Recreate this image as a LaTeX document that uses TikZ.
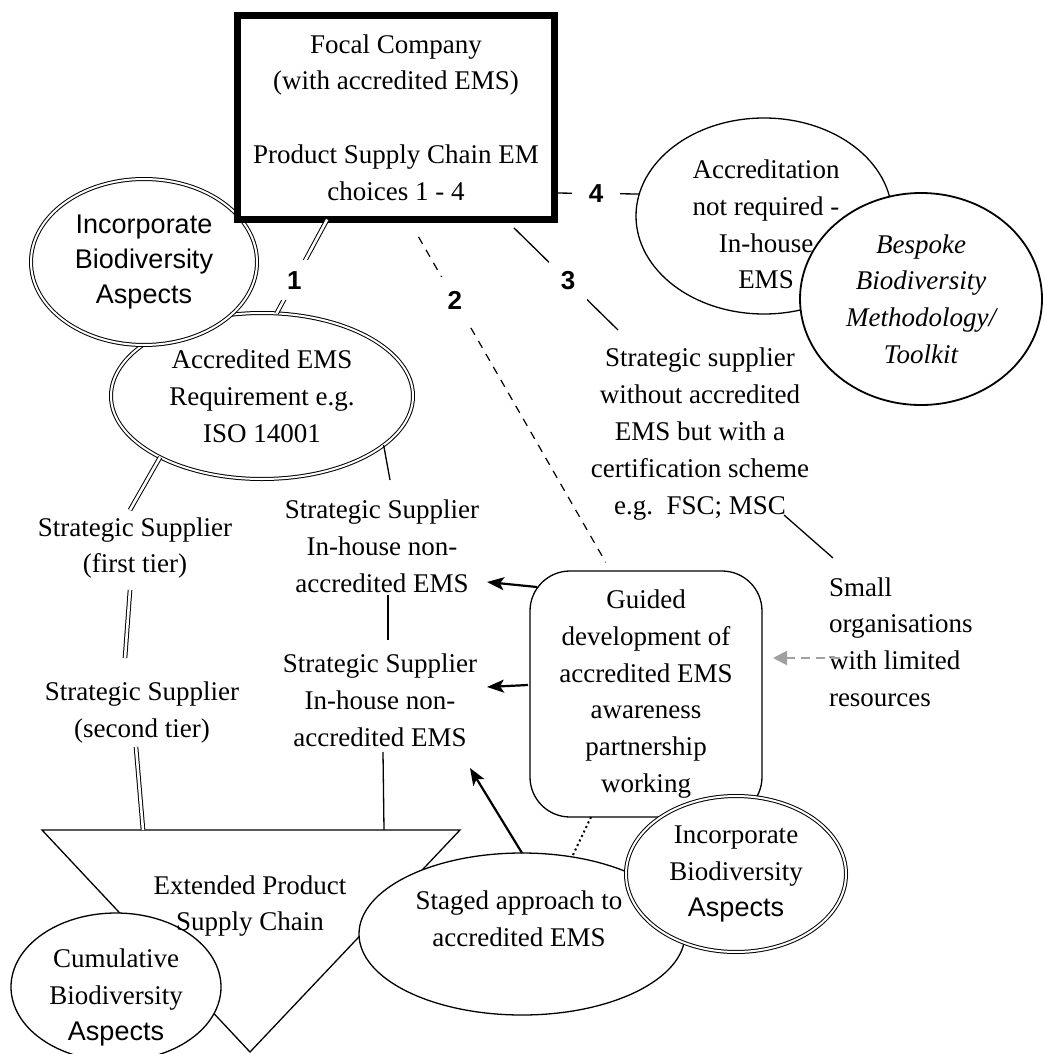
\documentclass[tikz,border=0pt]{standalone}
\usepackage{fontspec}
\setmainfont{Liberation Serif}
\setsansfont{Liberation Sans}
\usetikzlibrary{arrows.meta,shapes.geometric}
\definecolor{midgray}{RGB}{160,160,160}
\begin{document}
\begin{tikzpicture}[x=1pt,y=-1pt,
  every node/.style={outer sep=0pt},
  serif/.style={font=\fontsize{27pt}{36.8pt}\selectfont, align=center, inner sep=0pt},
  serifit/.style={font=\fontsize{27pt}{36.8pt}\selectfont\itshape, align=center, inner sep=0pt},
  sans/.style={font=\fontsize{27pt}{35pt}\selectfont\sffamily, align=center, inner sep=0pt},
  num/.style={font=\fontsize{26pt}{30pt}\selectfont\sffamily\bfseries, fill=white, inner sep=12pt},
  oval/.style={ellipse, draw, fill=white, line width=1.3pt, inner sep=0pt},
  dbloval/.style={ellipse, draw, fill=white, line width=1pt, double, double distance=2pt, inner sep=0pt},
  conn/.style={line width=1.3pt},
  dblline/.style={line width=1pt, double, double distance=2.6pt},
  arr/.style={line width=2.2pt, -{Stealth[length=17pt,width=13pt,inset=4pt]}},
  grayarr/.style={draw=midgray, line width=2pt, dash pattern=on 9pt off 6pt, -{Triangle[length=14pt,width=14pt]}},
  dotconn/.style={line width=2pt, dash pattern=on 2pt off 3pt},
  dashconn/.style={line width=1.2pt, dash pattern=on 8pt off 7pt},
]
\useasboundingbox (0,0) rectangle (1044,1054);
\fill[white] (0,0) rectangle (1044,1054);

% supply chain funnel
\coordinate (tl) at (42,830);
\coordinate (tr) at (460,830);
\coordinate (tip) at (250,1052);
\draw[conn, fill=white] (tl) -- (tr) -- (tip) -- cycle;
\coordinate (t1) at (143,830);
\coordinate (t2) at (384,830);

\node[oval, minimum width=210pt, minimum height=148pt] (cumul) at (116,987) {};
\node[oval, minimum width=326pt, minimum height=162pt] (staged) at (522,934) {};
\node[serif] (ext) at (250,906) {Extended Product\\Supply Chain};
\node[serif] (cumultext) at (116,997.5) {Cumulative\\Biodiversity\\{\sffamily Aspects}};
\node[serif] (stagedtext) at (519,919) {Staged approach to\\accredited EMS};

% guided development box and its biodiversity ellipse
\node[draw, rounded corners=40pt, line width=1.3pt, fill=white,
      minimum width=232pt, minimum height=246pt, serif] (guided) at (646,694)
  {Guided\\development of\\accredited EMS\\awareness\\partnership\\working};
\node[dbloval, minimum width=220pt, minimum height=156pt, serif] (inc2) at (736,874)
  {Incorporate\\Biodiversity\\{\sffamily Aspects}};

% accredited route
\node[dbloval, minimum width=302pt, minimum height=166pt, serif] (accr) at (262,396)
  {Accredited EMS\\Requirement e.g.\\ISO 14001};
\node[dbloval, minimum width=226pt, minimum height=166pt, sans] (inc1) at (144,262)
  {Incorporate\\Biodiversity\\Aspects};

% in-house route
\node[oval, minimum width=256pt, minimum height=196pt] (accrnr) at (764,216) {};
\node[oval, line width=1.8pt, minimum width=242pt, minimum height=212pt, serifit] (bespoke) at (921,299)
  {Bespoke\\Biodiversity\\Methodology/\\Toolkit};
\node[serif] (accrnrtext) at (766,224.5) {Accreditation\\not required -\\In-house\\EMS};

% focal company
\node[draw, line width=7pt, fill=white, minimum width=317pt, minimum height=204pt, serif] (focal) at (396,117.5)
  {Focal Company\\(with accredited EMS)\\[36.8pt]Product Supply Chain EM\\choices 1 - 4};

% supplier labels
\node[serif] (ss1) at (135,548) {Strategic Supplier\\(first tier)};
\node[serif] (ss2) at (142,712.5) {Strategic Supplier\\(second tier)};
\node[serif] (ih1) at (382,546.5) {Strategic Supplier\\In-house non-\\accredited EMS};
\node[serif] (ih2) at (380,700) {Strategic Supplier\\In-house non-\\accredited EMS};
\node[serif] (cert) at (700,434) {Strategic supplier\\without accredited\\EMS but with a\\certification scheme\\e.g.~~FSC; MSC};
\node[serif, align=left, anchor=west] (small) at (829,642) {Small\\organisations\\with limited\\resources};

% choices 1-4
\draw[dblline] (focal.236.8) -- node[num, pos=0.647, inner sep=11pt] {1} (accr.80.9);
\draw[dashconn, shorten <=20pt, shorten >=10pt] (focal.-83.3) -- node[num, pos=0.229, inner sep=14pt] {2} (guided.106.7);
\draw[conn, shorten <=12pt] (focal.-43) -- node[num, pos=0.556] {3} ([shift={(-82,-104)}]cert.center);
\draw[conn] ([shift={(0,75.5)}]focal.east) -- node[num, pos=0.49, inner xsep=17pt] {4} (accrnr.170);

% accredited chain
\draw[dblline] (accr.211.7) -- ([shift={(-5,-38)}]ss1.center);
\draw[dblline] ([shift={(-5,42)}]ss1.center) -- ([shift={(-17,-54.5)}]ss2.center);
\draw[dblline] ([shift={(-6,34.5)}]ss2.center) -- (t1);
\draw[conn] (accr.-22.9) -- ([shift={(8,-66.5)}]ih1.center);
\draw[conn] ([shift={(6,48.5)}]ih1.center) -- ([shift={(8,-60)}]ih2.center);
\draw[conn] ([shift={(3,52)}]ih2.center) -- (t2);

% development support
\draw[arr] ([shift={(7,-107)}]guided.west) -- ([shift={(105,35.5)}]ih1.center);
\draw[arr] ([shift={(-2,-9)}]guided.west) -- ([shift={(107,-13)}]ih2.center);
\draw[arr] (staged.north) -- ([shift={(90,68)}]ih2.center);
\draw[dotconn] ([shift={(-55,0)}]guided.south) -- (staged.57);

% certification and small organisations
\draw[conn] ([shift={(84,81)}]cert.center) -- ([shift={(4,-84)}]small.west);
\draw[grayarr] ([shift={(11,16)}]small.west) -- ([shift={(11,-36)}]guided.east);
\end{tikzpicture}
\end{document}
